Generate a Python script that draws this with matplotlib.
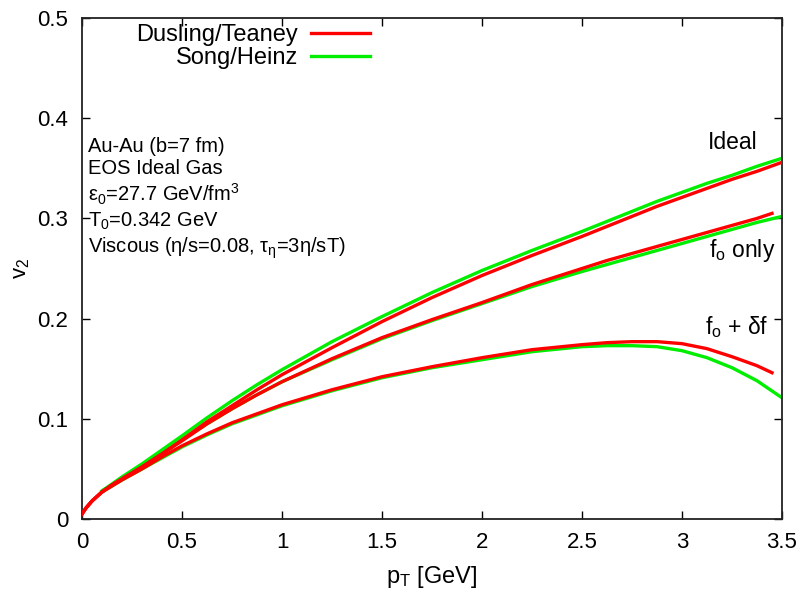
import matplotlib
matplotlib.use("Agg")
import matplotlib.pyplot as plt

plt.rcParams["font.family"] = ["Liberation Sans", "DejaVu Sans"]
plt.rcParams["mathtext.fontset"] = "custom"
plt.rcParams["mathtext.rm"] = "Liberation Sans"
plt.rcParams["mathtext.it"] = "Liberation Sans"
plt.rcParams["mathtext.bf"] = "Liberation Sans:bold"

# Dusling/Teaney (red): v2 vs pT
pt_dt = [0.0, 0.02, 0.05, 0.1, 0.15, 0.2, 0.3, 0.4, 0.5, 0.625, 0.75, 0.875, 1.0,
         1.25, 1.5, 1.75, 2.0, 2.25, 2.5, 2.625, 2.75, 2.875, 3.0, 3.125, 3.25,
         3.375, 3.45]
pt_dt_ideal = pt_dt[:-1] + [3.5]
ideal_dt = [0.005, 0.011, 0.018, 0.027, 0.034, 0.040, 0.052, 0.065, 0.079, 0.097,
            0.113, 0.129, 0.144, 0.171, 0.197, 0.221, 0.243, 0.263, 0.282, 0.292,
            0.302, 0.312, 0.321, 0.330, 0.339, 0.347, 0.356]
fo_dt = [0.005, 0.011, 0.018, 0.027, 0.034, 0.040, 0.052, 0.065, 0.078, 0.095,
         0.110, 0.124, 0.137, 0.160, 0.181, 0.199, 0.216, 0.234, 0.250, 0.258,
         0.265, 0.272, 0.279, 0.286, 0.293, 0.300, 0.305]
fodf_dt = [0.005, 0.011, 0.018, 0.027, 0.033, 0.039, 0.050, 0.062, 0.073, 0.085,
           0.096, 0.105, 0.114, 0.129, 0.142, 0.152, 0.161, 0.169, 0.174, 0.176,
           0.177, 0.177, 0.175, 0.170, 0.162, 0.153, 0.146]

# Song/Heinz (green): v2 vs pT
pt_sh = [0.1, 0.15, 0.2, 0.3, 0.4, 0.5, 0.625, 0.75, 0.875, 1.0, 1.25, 1.5, 1.75,
         2.0, 2.25, 2.5, 2.625, 2.75, 2.875, 3.0, 3.125, 3.25, 3.375, 3.5]
ideal_sh = [0.028, 0.035, 0.042, 0.055, 0.069, 0.083, 0.101, 0.118, 0.134, 0.149,
            0.177, 0.202, 0.226, 0.248, 0.268, 0.287, 0.297, 0.307, 0.317, 0.326,
            0.335, 0.343, 0.352, 0.360]
fo_sh = [0.028, 0.034, 0.041, 0.053, 0.066, 0.079, 0.095, 0.110, 0.124, 0.137,
         0.159, 0.180, 0.198, 0.215, 0.232, 0.247, 0.254, 0.261, 0.268, 0.275,
         0.282, 0.289, 0.296, 0.302]
fodf_sh = [0.027, 0.033, 0.039, 0.050, 0.061, 0.072, 0.084, 0.095, 0.104, 0.113,
           0.128, 0.141, 0.151, 0.159, 0.167, 0.172, 0.173, 0.173, 0.172, 0.168,
           0.161, 0.151, 0.138, 0.121]

xticks = [0, 0.5, 1, 1.5, 2, 2.5, 3, 3.5]
xticklabels = ["0", "0.5", "1", "1.5", "2", "2.5", "3", "3.5"]
yticks = [0, 0.1, 0.2, 0.3, 0.4, 0.5]
yticklabels = ["0", "0.1", "0.2", "0.3", "0.4", "0.5"]

RED = "#ff0000"
GREEN = "#00ee00"

fig = plt.figure(figsize=(8, 5.9), dpi=100)
ax = fig.add_axes([0.1025, 0.1203, 0.875, 0.8492])

lw = 2.4
ax.plot(pt_sh, ideal_sh, color=GREEN, lw=lw, zorder=2)
ax.plot(pt_sh, fo_sh, color=GREEN, lw=lw, zorder=2)
ax.plot(pt_sh, fodf_sh, color=GREEN, lw=lw, zorder=2, label="Song/Heinz")
ax.plot(pt_dt_ideal, ideal_dt, color=RED, lw=lw, zorder=3)
ax.plot(pt_dt, fo_dt, color=RED, lw=lw, zorder=3)
ax.plot(pt_dt, fodf_dt, color=RED, lw=lw, zorder=3, label="Dusling/Teaney")

ax.set_xlim(0, 3.5)
ax.set_ylim(0, 0.5)
ax.set_xticks(xticks)
ax.set_xticklabels(xticklabels)
ax.set_yticks(yticks)
ax.set_yticklabels(yticklabels)
ax.tick_params(direction="in", length=6, width=1.0, top=True, right=True,
               labelsize=16, colors="black")
ax.tick_params(axis="x", pad=9)
ax.tick_params(axis="y", pad=10)
for s in ax.spines.values():
    s.set_linewidth(1.3)
    s.set_color("#222222")

ax.set_xlabel(r"p$_\mathrm{T}$ [GeV]", fontsize=17, labelpad=8)
ax.set_ylabel(r"v$_2$", fontsize=16, labelpad=4)

handles, labels = ax.get_legend_handles_labels()
leg = ax.legend(handles[::-1], labels[::-1], loc="upper right",
                bbox_to_anchor=(0.4114, 0.988), markerfirst=False, frameon=False,
                fontsize=17, handlelength=2.5, handletextpad=0.55,
                labelspacing=0.05, borderpad=0, borderaxespad=0)

info = ("Au-Au (b=7 fm)\n"
        "EOS Ideal Gas\n"
        "ε$_0$=27.7 GeV/fm$^3$\n"
        "T$_0$=0.342 GeV\n"
        "Viscous (η/s=0.08, τ$_\\mathrm{η}$=3η/sT)")
ax.text(0.008, 0.762, info, transform=ax.transAxes, fontsize=14.5,
        va="top", ha="left", linespacing=1.2)

ax.text(3.38, 0.376, "Ideal", fontsize=16.5, ha="right", va="center")
ax.text(3.465, 0.268, r"f$_\mathrm{o}$ only", fontsize=16.5, ha="right", va="center")
ax.text(3.43, 0.192, r"f$_\mathrm{o}$ + δf", fontsize=16.5, ha="right", va="center")

fig.savefig("out.png", dpi=100)
